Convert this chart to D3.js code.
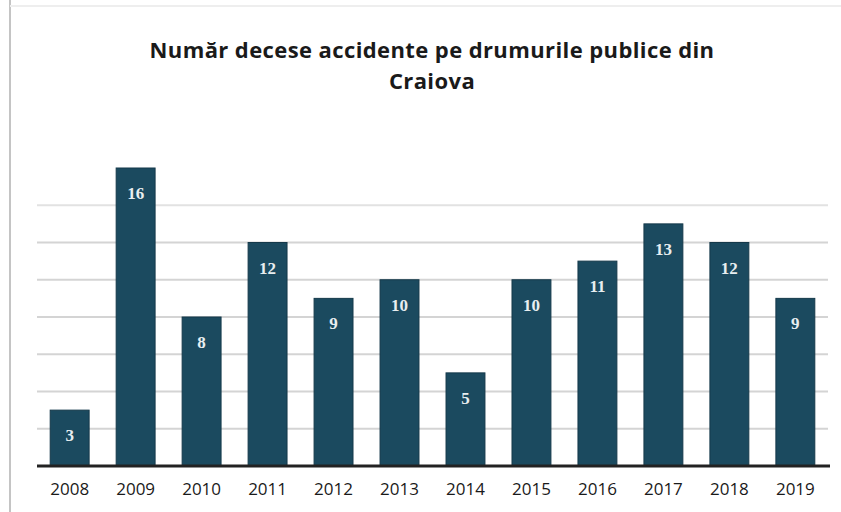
<!DOCTYPE html>
<html>
<head>
<meta charset="utf-8">
<script src="https://cdn.jsdelivr.net/npm/d3@7"></script>
<style>
  html, body { margin: 0; padding: 0; background: #fff; }
  svg { display: block; }
</style>
</head>
<body>
<svg id="chart" width="841" height="512"></svg>
<script>
const titleLines = ["Număr decese accidente pe drumurile publice din", "Craiova"];
const years = ["2008","2009","2010","2011","2012","2013","2014","2015","2016","2017","2018","2019"];
const deaths = [3, 16, 8, 12, 9, 10, 5, 10, 11, 13, 12, 9];
const gridTicks = [2, 4, 6, 8, 10, 12, 14];

const svg = d3.select("#chart");
const W = 841, H = 512;
const margin = {left: 37, right: 13, top: 168, bottom: 46};

const x = d3.scaleBand()
  .domain(years)
  .range([margin.left, W - margin.right])
  .paddingInner(0.41)
  .paddingOuter(0.2);

const y = d3.scaleLinear()
  .domain([0, 16])
  .range([H - margin.bottom, margin.top]);

// scan-like border
svg.append("line")
  .attr("x1", 10).attr("x2", 10).attr("y1", 0).attr("y2", H)
  .attr("stroke", "#c4c4c4").attr("stroke-width", 2);
svg.append("line")
  .attr("x1", 10).attr("x2", W).attr("y1", 6).attr("y2", 6)
  .attr("stroke", "#eeeeee").attr("stroke-width", 2);

// title
svg.append("text")
  .attr("x", 432).attr("y", 58)
  .attr("text-anchor", "middle")
  .style("font-family", "'Open Sans', sans-serif")
  .style("font-weight", "bold")
  .style("font-size", "22px")
  .style("letter-spacing", "0.4px")
  .attr("fill", "#1a1a1a")
  .selectAll("tspan")
  .data(titleLines)
  .join("tspan")
  .attr("x", 432)
  .attr("dy", (d, i) => i === 0 ? 0 : 31)
  .text(d => d);

// gridlines
svg.append("g")
  .selectAll("line")
  .data(gridTicks)
  .join("line")
  .attr("x1", margin.left).attr("x2", W - margin.right)
  .attr("y1", d => y(d)).attr("y2", d => y(d))
  .attr("stroke", (d) => d >= 14 ? "#e2e2e2" : "#d4d4d4")
  .attr("stroke-width", 2);

// bars
svg.append("g")
  .selectAll("rect")
  .data(deaths)
  .join("rect")
  .attr("x", (d, i) => x(years[i]))
  .attr("y", d => y(d))
  .attr("width", x.bandwidth())
  .attr("height", d => y(0) - y(d))
  .attr("fill", "#1b4a5f")
  .attr("stroke", "#15394a")
  .attr("stroke-width", 1);

// value labels
svg.append("g")
  .selectAll("text")
  .data(deaths)
  .join("text")
  .attr("x", (d, i) => x(years[i]) + x.bandwidth() / 2)
  .attr("y", d => y(d) + 31)
  .attr("text-anchor", "middle")
  .style("font-family", "'Liberation Serif', serif")
  .style("font-weight", "bold")
  .style("font-size", "17px")
  .attr("fill", "#e8eef0")
  .text(d => d);

// x axis baseline
const xAxis = d3.axisBottom(x).tickSize(0).tickPadding(17);
const gx = svg.append("g")
  .attr("transform", `translate(0,${y(0)})`)
  .call(xAxis);
gx.select(".domain")
  .attr("stroke", "#222")
  .attr("stroke-width", 3)
  .attr("d", `M${margin.left},0H${W - margin.right + 2}`);
gx.selectAll("text")
  .style("font-family", "'Open Sans', sans-serif")
  .style("font-size", "17px")
  .attr("fill", "#1a1a1a");
</script>
</body>
</html>
